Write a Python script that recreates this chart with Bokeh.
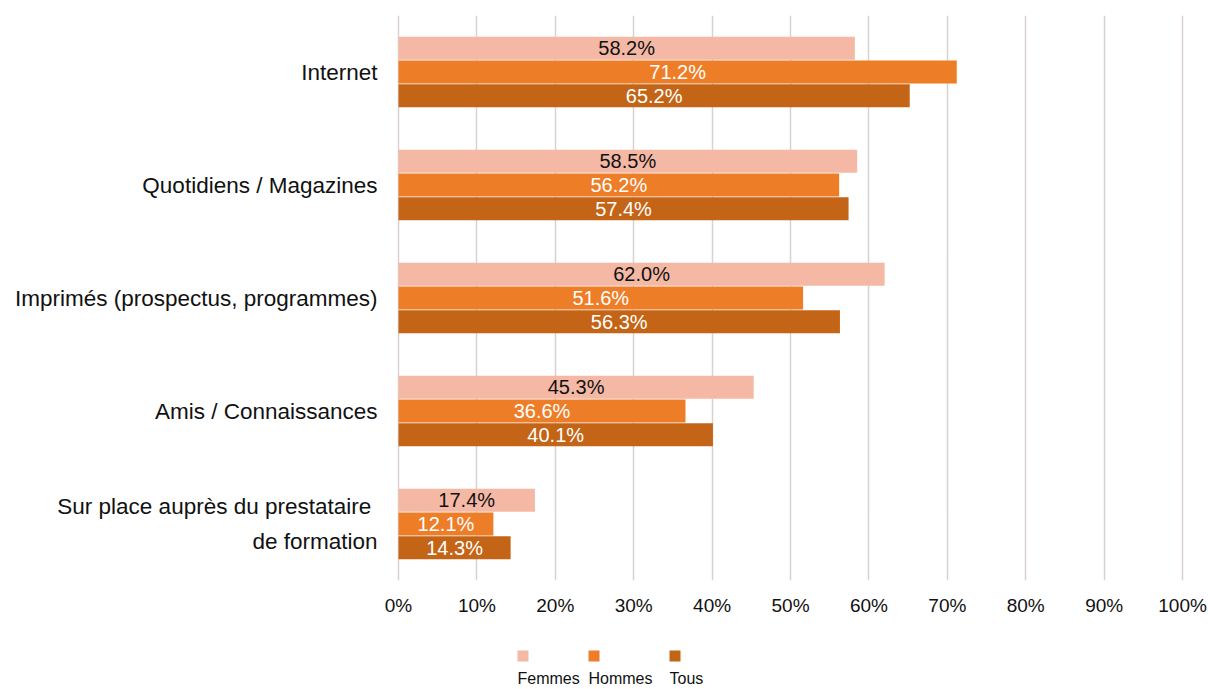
from bokeh.plotting import figure
from bokeh.models import Range1d, FactorRange, PrintfTickFormatter, ColumnDataSource
from bokeh.transform import dodge
from bokeh.layouts import column
from bokeh.core.properties import value
from bokeh.embed import file_html
from bokeh.resources import INLINE

categories = ["Internet", "Quotidiens / Magazines", "Imprimés (prospectus, programmes)",
              "Amis / Connaissances", "Sur place auprès du prestataire \nde formation"]
series = ["Femmes", "Hommes", "Tous"]
femmes = [58.2, 58.5, 62.0, 45.3, 17.4]
hommes = [71.2, 56.2, 51.6, 36.6, 12.1]
tous = [65.2, 57.4, 56.3, 40.1, 14.3]
colors = ["#F4B8A5", "#ED7D27", "#C46417"]
label_colors = ["#111111", "#FFFFFF", "#FFFFFF"]
ticks = list(range(0, 101, 10))

FONT = "Liberation Sans"

p = figure(width=1208, height=622, output_backend="svg", toolbar_location=None,
           y_range=FactorRange(factors=categories[::-1], range_padding=0),
           x_range=Range1d(-0.255, 100.5))
p.min_border_left = 396
p.min_border_right = 22
p.min_border_top = 15
p.min_border_bottom = 42
p.outline_line_color = None

offsets = [0.21, 0.0, -0.21]
for vals, off, col, lcol in zip([femmes, hommes, tous], offsets, colors, label_colors):
    src = ColumnDataSource(dict(cat=categories, val=vals, mid=[v / 2 for v in vals],
                                lbl=[f"{v:.1f}%" for v in vals]))
    p.hbar(y=dodge("cat", off, range=p.y_range), left=0, right="val", height=0.205,
           source=src, fill_color=col, line_color=None)
    p.text(x="mid", y=dodge("cat", off, range=p.y_range), text="lbl", source=src,
           text_align="center", text_baseline="middle", text_color=lcol,
           text_font=value(FONT), text_font_size="20px")

p.ygrid.grid_line_color = None
p.xgrid.grid_line_color = "#D9D0D0"
p.xgrid.grid_line_width = 1.5
p.xgrid.level = "underlay"
p.xaxis.ticker = ticks
p.xaxis.formatter = PrintfTickFormatter(format="%d%%")
for ax in (p.xaxis[0], p.yaxis[0]):
    ax.axis_line_color = None
    ax.major_tick_line_color = None
    ax.minor_tick_line_color = None
    ax.major_label_text_font = FONT
    ax.major_label_text_color = "#111111"
p.xaxis.major_label_text_font_size = "19px"
p.xaxis.major_label_standoff = 8
p.yaxis.major_label_text_font_size = "22.5px"
p.yaxis.major_label_standoff = 13
p.yaxis.major_label_text_line_height = 1.4

# legend figure (its frame is aligned with the main frame by the column layout)
lg = figure(width=1208, height=64, output_backend="svg", toolbar_location=None,
            x_range=Range1d(396, 1186), y_range=Range1d(64, 0))
lg.axis.visible = False
lg.grid.visible = False
lg.outline_line_color = None
lg.min_border = 0
lsrc = ColumnDataSource(dict(name=series, color=colors, x=[517, 588, 669]))
lg.rect(x=dodge("x", 5.5), y=33.5, width=11, height=11, source=lsrc,
        fill_color="color", line_color=None)
lg.text(x="x", y=56, text="name", source=lsrc, text_align="left", text_baseline="middle",
        text_color="#111111", text_font=value(FONT), text_font_size="16px")

layout = column(p, lg, spacing=0)
open("out.html", "w").write(file_html(layout, INLINE))
